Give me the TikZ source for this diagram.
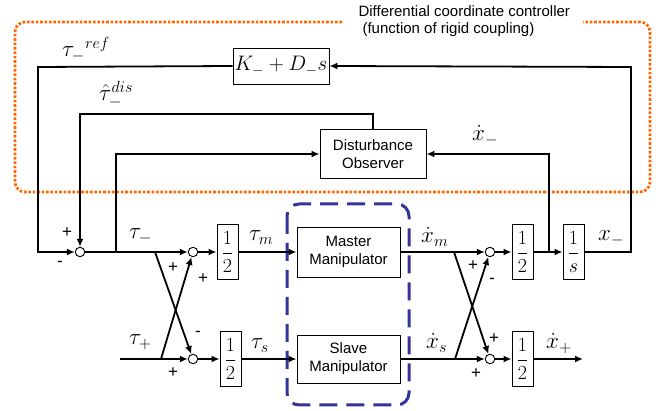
\RequirePackage{fix-cm}
\documentclass[tikz,border=0pt]{standalone}
\usepackage{fontspec}
\setsansfont{Liberation Sans}
\usetikzlibrary{arrows.meta}
\definecolor{dotorange}{RGB}{255,102,0}
\definecolor{dashblue}{RGB}{51,51,153}
\newcommand{\dfr}[2]{\displaystyle\frac{#1}{#2}}
\tikzset{
  ln/.style={line width=1.8pt},
  arr/.style={ln,-{Latex[length=8pt,width=7pt]}},
  sumnode/.style={circle,draw,line width=0.9pt,minimum size=9.5pt,inner sep=0pt,fill=white},
  blk/.style={draw,line width=0.9pt,inner sep=0pt,fill=white},
  halfbox/.style={blk,minimum width=21pt,minimum height=55pt,font=\fontsize{20}{22}\selectfont},
  txt/.style={font=\sffamily\fontsize{15}{18}\selectfont,align=center},
  sg/.style={font=\sffamily\fontsize{17}{17}\selectfont,inner sep=0pt},
  lab/.style={font=\fontsize{23}{25}\selectfont,inner sep=0pt}
}
\begin{document}
\begin{tikzpicture}[x=1pt,y=-1pt]
\useasboundingbox (0,0) rectangle (672,411);
% orange dotted controller frame
\draw[dotorange,line width=2.7pt,line cap=butt,dash pattern=on 2.6pt off 1.8pt,rounded corners=10pt]
  (342,22) -- (15,22) -- (15,192) -- (650,192) -- (650,22) -- (583,22);
\node[txt,anchor=west] (t1) at (355,11) {Differential coordinate controller};
\node[txt,anchor=west] (t2) at (359,30) {(function of rigid coupling)};
% blue dashed manipulator frame
\draw[dashblue,line width=3pt,dash pattern=on 18pt off 9pt,rounded corners=12pt]
  (287,204) rectangle (409,405);
% blocks
\node[blk,minimum width=96pt,minimum height=36pt,font=\fontsize{21}{23}\selectfont] (K) at (281,66) {$K_{-}+D_{-}s$};
\node[blk,txt,minimum width=106pt,minimum height=49pt] (Obs) at (373,154) {Disturbance\\Observer};
\node[blk,txt,minimum width=103pt,minimum height=50pt] (M) at (348.5,252) {Master\\Manipulator};
\node[blk,txt,minimum width=103pt,minimum height=48pt] (S) at (348.5,359) {Slave\\Manipulator};
\node[halfbox] (hA) at (227.5,252) {$\dfr{1}{2}$};
\node[halfbox] (hB) at (230.5,359) {$\dfr{1}{2}$};
\node[halfbox] (hC) at (522.5,252) {$\dfr{1}{2}$};
\node[halfbox] (hD) at (522.5,359) {$\dfr{1}{2}$};
\node[halfbox] (hS) at (573.5,252) {$\dfr{1}{s}$};
% summing junctions
\node[sumnode] (s1) at (80,252) {};
\node[sumnode] (s2) at (193,252) {};
\node[sumnode] (s3) at (193,359) {};
\node[sumnode] (s4) at (490,252) {};
\node[sumnode] (s5) at (490,359) {};
% coordinates
\coordinate (xr) at (631,67);
\coordinate (kl) at (38,67);
\coordinate (dtop) at (80,114);
\coordinate (b1) at (116,252);
\coordinate (c1) at (155,252);
\coordinate (c2) at (161,359);
\coordinate (tp) at (120,359);
\coordinate (c3) at (454,252);
\coordinate (c4) at (455,359);
\coordinate (b2) at (549,252);
\coordinate (out) at (583,359);
% connectors
\draw[arr] (hS.east) -| (xr) -- (K.east);
\draw[arr] (K.west) -- (kl) |- (s1);
\draw[arr] (Obs.north) |- (dtop) -- (s1);
\draw[arr] (s1) -- (s2);
\draw[arr] (b1) |- (Obs.west);
\draw[arr] (c1) -- (s3);
\draw[arr] (c2) -- (s2);
\draw[arr] (tp) -- (s3);
\draw[arr] (s2) -- (hA);
\draw[arr] (s3) -- (hB);
\draw[arr] (hA) -- (M);
\draw[arr] (hB) -- (S);
\draw[arr] (M) -- (s4);
\draw[arr] (S) -- (s5);
\draw[arr] (c3) -- (s5);
\draw[arr] (c4) -- (s4);
\draw[arr] (s4) -- (hC);
\draw[arr] (s5) -- (hD);
\draw[arr] (hC) -- (hS);
\draw[arr] (b2) |- (Obs.east);
\draw[arr] (hD) -- (out);
% labels
\node[lab,anchor=base west] (lref) at (62,57) {${\tau_{-}}^{ref}$};
\node[lab,anchor=base west] (ldis) at (99,101) {${\hat{\tau}_{-}}^{dis}$};
\node[lab,anchor=base west] (lxd) at (472,141) {$\dot{x}_{-}$};
\node[lab,anchor=base west] (ltm) at (129,239) {$\tau_{-}$};
\node[lab,anchor=base west] (ltp) at (129,345) {$\tau_{+}$};
\node[lab,anchor=base west] (ltmm) at (249,241) {$\tau_{m}$};
\node[lab,anchor=base west] (lts) at (251,349) {$\tau_{s}$};
\node[lab,anchor=base west] (lxm) at (421,243) {$\dot{x}_{m}$};
\node[lab,anchor=base west] (lxs) at (426,349) {$\dot{x}_{s}$};
\node[lab,anchor=base west] (lxmin) at (598,241) {$x_{-}$};
\node[lab,anchor=base west] (lxp) at (546,349) {$\dot{x}_{+}$};
% signs
\node[sg] (p1) at (67,233) {+};
\node[sg] (m1) at (60,264) {-};
\node[sg] (p2) at (173,268) {+};
\node[sg] (p3) at (203,279) {+};
\node[sg] (m2) at (198,334) {-};
\node[sg] (p4) at (173,373) {+};
\node[sg] (p5) at (473,266) {+};
\node[sg] (m3) at (492,281) {-};
\node[sg] (p6) at (494,339) {+};
\node[sg] (p7) at (476,374) {+};
\end{tikzpicture}
\end{document}
